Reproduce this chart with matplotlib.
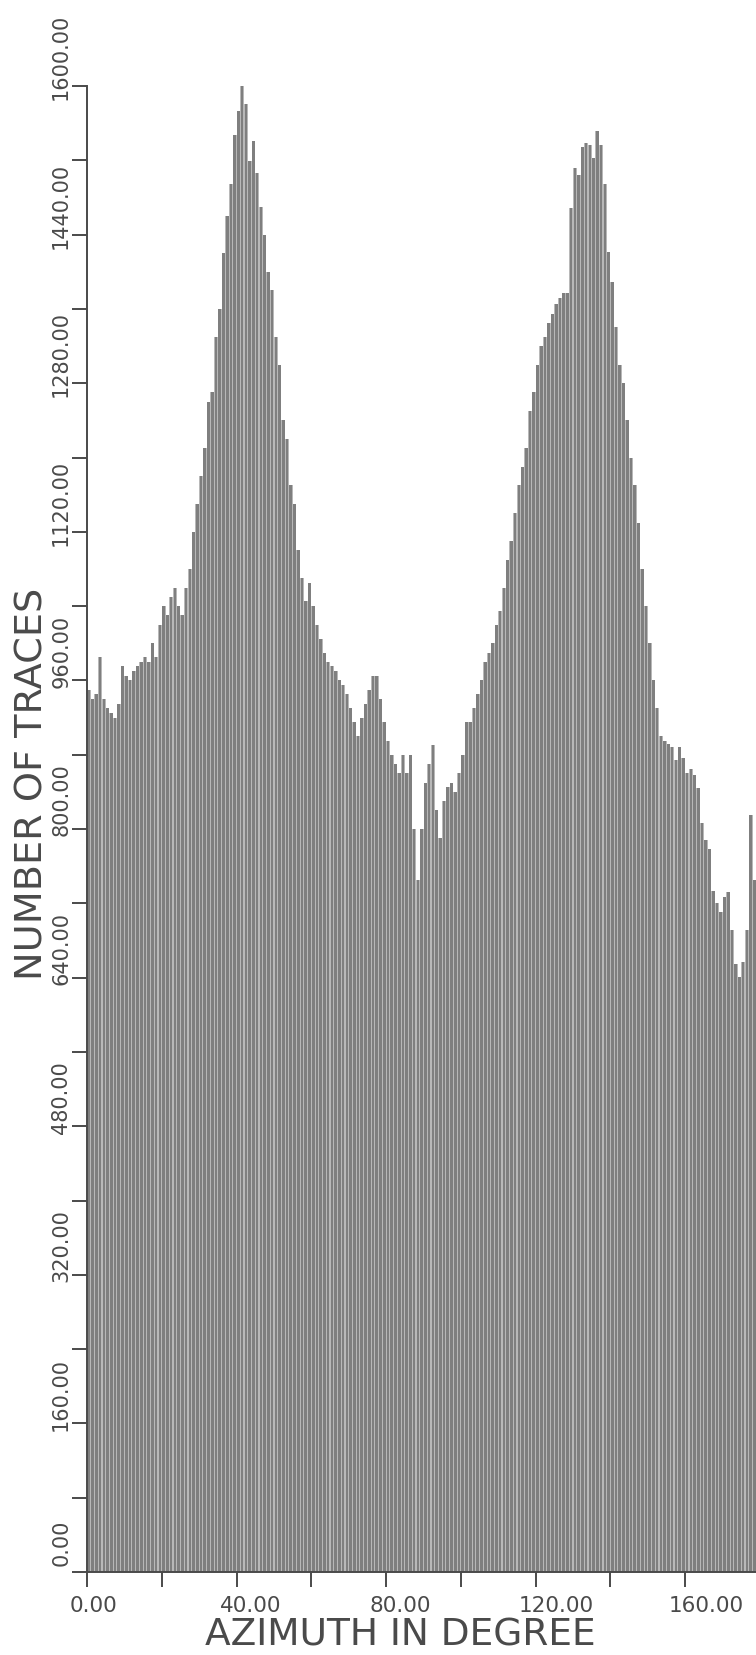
import matplotlib.pyplot as plt
import matplotlib.transforms as mtransforms
import numpy as np

# azimuth histogram, 1 degree bins (bins 0..178 visible)
azimuth_bins = np.arange(0, 179)
trace_counts = [
    950, 940, 945, 985, 940, 930, 925, 920, 935, 975,
    965, 960, 970, 975, 980, 985, 980, 1000, 985, 1020,
    1040, 1030, 1050, 1060, 1040, 1030, 1060, 1080, 1120, 1150,
    1180, 1210, 1260, 1270, 1330, 1360, 1420, 1460, 1495, 1547,
    1573, 1600, 1581, 1519, 1541, 1506, 1470, 1440, 1400, 1380,
    1330, 1300, 1240, 1220, 1170, 1150, 1100, 1070, 1045, 1065,
    1040, 1020, 1005, 990, 980, 975, 970, 960, 955, 945,
    930, 915, 900, 920, 935, 950, 965, 965, 940, 915,
    895, 880, 870, 860, 880, 860, 880, 800, 745, 800,
    850, 870, 890, 820, 790, 830, 845, 850, 840, 860,
    880, 915, 915, 930, 945, 960, 980, 990, 1000, 1020,
    1035, 1060, 1090, 1110, 1140, 1170, 1190, 1210, 1250, 1270,
    1300, 1320, 1330, 1345, 1355, 1365, 1372, 1377, 1377, 1469,
    1512, 1504, 1534, 1539, 1536, 1523, 1552, 1536, 1495, 1421,
    1389, 1340, 1300, 1280, 1240, 1200, 1170, 1130, 1080, 1040,
    1000, 960, 930, 900, 895, 892, 888, 874, 888, 876,
    860, 865, 858, 844, 806, 788, 779, 733, 720, 711,
    727, 732, 691, 655, 641, 657, 691, 815, 745,
]

y_major = np.arange(0, 1601, 160)
y_minor = np.arange(0, 1601, 80)
x_major = np.arange(0, 161, 40)
x_minor = np.arange(0, 181, 20)

ink = "#4a4a4a"
W, H = 756, 1655
fig = plt.figure(figsize=(W / 100, H / 100), dpi=100)
# axis runs past the right edge of the page (scan is cropped)
ax = fig.add_axes([87 / W, 83 / H, 673 / W, 1486 / H])

# light grey underlay so the gaps between bars look like the scanned print
ax.bar(azimuth_bins + 0.5, trace_counts, width=1.0, color="#b8b8b8", linewidth=0)
ax.bar(azimuth_bins + 0.5, trace_counts, width=0.7, color="#7f7f7f", linewidth=0)

ax.set_xlim(0, 180)
ax.set_ylim(0, 1600)
for s in ("top", "right"):
    ax.spines[s].set_visible(False)
for s in ("left", "bottom"):
    ax.spines[s].set_color(ink)
    ax.spines[s].set_linewidth(1.4)

ax.set_yticks(y_major)
ax.set_yticks(y_minor, minor=True)
ax.set_xticks(x_major)
ax.set_xticks(x_minor, minor=True)
ax.tick_params(which="both", direction="out", length=11, width=1.4, color=ink)
ax.tick_params(axis="y", which="major", pad=0.4)
ax.tick_params(axis="x", which="major", pad=6)

ax.set_yticklabels([f"{v:.2f}" for v in y_major], rotation=90,
                   va="center", ha="right", fontsize=15, color=ink)
ax.set_xticklabels([f"{v:.2f}" for v in x_major], ha="left",
                   fontsize=15.5, color=ink)

up = mtransforms.ScaledTranslation(0, 0.29, fig.dpi_scale_trans)
for lab in ax.get_yticklabels():
    lab.set_transform(lab.get_transform() + up)
left = mtransforms.ScaledTranslation(-0.17, 0, fig.dpi_scale_trans)
for lab in ax.get_xticklabels():
    lab.set_transform(lab.get_transform() + left)

fig.text(400 / W, 1 - 1635 / H, "AZIMUTH IN DEGREE", ha="center", va="center",
         fontsize=27, color=ink)
fig.text(32.5 / W, 1 - 784 / H, "NUMBER OF TRACES", ha="center", va="center",
         rotation=90, fontsize=27.5, color=ink)

fig.savefig("out.png", dpi=100)
